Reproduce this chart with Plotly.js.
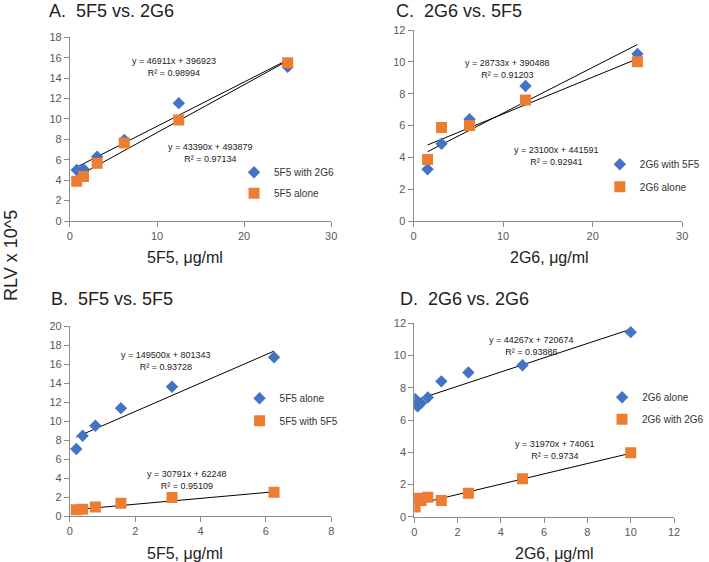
<!DOCTYPE html>
<html>
<head>
<meta charset="utf-8">
<script src="https://cdn.plot.ly/plotly-3.0.1.min.js"></script>
<style>html,body{margin:0;padding:0;background:#fff}#chart{width:709px;height:562px}</style>
</head>
<body>
<div id="chart"></div>
<script>
// ---------- DATA (RLV in units of 10^5) ----------
// Panel A: 5F5 vs. 2G6
const xA = [0.78, 1.56, 3.125, 6.25, 12.5, 25];
const yA_5F5with2G6 = [5.0, 5.1, 6.3, 7.95, 11.55, 15.1];
const yA_5F5alone = [3.9, 4.35, 5.65, 7.65, 9.9, 15.5];
// Panel C: 2G6 vs. 5F5
const xC = [1.5625, 3.125, 6.25, 12.5, 25];
const yC_2G6with5F5 = [3.25, 4.85, 6.4, 8.48, 10.5];
const yC_2G6alone = [3.87, 5.88, 6.0, 7.6, 10.0];
// Panel B: 5F5 vs. 5F5
const xB = [0.195, 0.39, 0.78, 1.5625, 3.125, 6.25];
const yB_5F5alone = [7.05, 8.45, 9.5, 11.35, 13.6, 16.7];
const yB_5F5with5F5 = [0.65, 0.7, 0.95, 1.35, 1.95, 2.5];
// Panel D: 2G6 vs. 2G6
const xD = [0.039, 0.078, 0.156, 0.3125, 0.625, 1.25, 2.5, 5, 10];
const yD_2G6alone = [7.3, 6.95, 6.85, 7.05, 7.4, 8.4, 8.95, 9.4, 11.45];
const yD_2G6with2G6 = [0.6, 1.05, 1.15, 1.0, 1.2, 1.0, 1.45, 2.35, 3.97];

// Trend line equations as printed (y = slope*x + intercept, raw RLV)
const trendSlopes     = {A1: 43390, A2: 46911, C1: 28733, C2: 23100, B1: 149500, B2: 30791, D1: 44267, D2: 31970};
const trendIntercepts = {A1: 493879, A2: 396923, C1: 390488, C2: 441591, B1: 801343, B2: 62248, D1: 720674, D2: 74061};
const trendR2         = {A1: '0.97134', A2: '0.98994', C1: '0.91203', C2: '0.92941', B1: '0.93728', B2: '0.95109', D1: '0.93886', D2: '0.9734'};

const panelTitles = {A: 'A.  5F5 vs. 2G6', B: 'B.  5F5 vs. 5F5', C: 'C.  2G6 vs. 5F5', D: 'D.  2G6 vs. 2G6'};
const xTitles = {A: '5F5, μg/ml', B: '5F5, μg/ml', C: '2G6, μg/ml', D: '2G6, μg/ml'};
const yTitle = 'RLV x 10^5';
const SCALE = 1e5;

// ---------- STYLE ----------
const W = 709, H = 562;
const BLUE = '#4472C4', ORANGE = '#ED7D31';
const px = v => v / W, py = v => 1 - v / H;
const FONT = 'Liberation Sans, Arial, sans-serif';

function fmtEq(k) {
  return 'y = ' + trendSlopes[k] + 'x + ' + trendIntercepts[k] + '<br>R² = ' + trendR2[k];
}
function trend(k, xs, xa, ya) {
  const x0 = xs[0], x1 = xs[xs.length - 1];
  const f = x => (trendSlopes[k] * x + trendIntercepts[k]) / SCALE;
  return {x: [x0, x1], y: [f(x0), f(x1)], mode: 'lines', type: 'scatter', xaxis: xa, yaxis: ya,
          line: {color: '#000', width: 1}, showlegend: false, hoverinfo: 'skip'};
}
function pts(name, xs, ys, color, symbol, size, xa, ya, lg) {
  return {x: xs, y: ys, name: name, mode: 'markers', type: 'scatter', xaxis: xa, yaxis: ya,
          marker: {color: color, symbol: symbol, size: size, line: {width: 0}}, legend: lg, showlegend: true};
}

const traces = [
  trend('A1', xA, 'x', 'y'), trend('A2', xA, 'x', 'y'),
  pts('5F5 with 2G6', xA, yA_5F5with2G6, BLUE, 'diamond', 9.5, 'x', 'y', 'legend'),
  pts('5F5 alone', xA, yA_5F5alone, ORANGE, 'square', 11, 'x', 'y', 'legend2'),

  trend('C1', xC, 'x2', 'y2'), trend('C2', xC, 'x2', 'y2'),
  pts('2G6 with 5F5', xC, yC_2G6with5F5, BLUE, 'diamond', 9.5, 'x2', 'y2', 'legend3'),
  pts('2G6 alone', xC, yC_2G6alone, ORANGE, 'square', 11, 'x2', 'y2', 'legend4'),

  trend('B1', xB, 'x3', 'y3'), trend('B2', xB, 'x3', 'y3'),
  pts('5F5 alone', xB, yB_5F5alone, BLUE, 'diamond', 9.5, 'x3', 'y3', 'legend5'),
  pts('5F5 with 5F5', xB, yB_5F5with5F5, ORANGE, 'square', 11, 'x3', 'y3', 'legend6'),

  trend('D1', xD, 'x4', 'y4'), trend('D2', xD, 'x4', 'y4'),
  pts('2G6 alone', xD, yD_2G6alone, BLUE, 'diamond', 9.5, 'x4', 'y4', 'legend7'),
  pts('2G6 with 2G6', xD, yD_2G6with2G6, ORANGE, 'square', 11, 'x4', 'y4', 'legend8')
];

const axCommon = {showgrid: false, zeroline: false, showline: true, linecolor: '#8c8c8c', linewidth: 1,
  ticks: 'outside', ticklen: 5, tickcolor: '#8c8c8c', tickfont: {family: FONT, size: 11, color: '#595959'},
  fixedrange: true};
function xax(dom, range, dtick, anchor) {
  return Object.assign({}, axCommon, {domain: dom, range: range, dtick: dtick, tick0: 0, anchor: anchor});
}
function yax(dom, range, dtick, anchor) {
  return Object.assign({}, axCommon, {domain: dom, range: range, dtick: dtick, tick0: 0, anchor: anchor});
}
function legendAt(xc, yc) {
  return {x: px(xc - 20), y: py(yc), xanchor: 'left', yanchor: 'middle', bgcolor: 'rgba(0,0,0,0)',
          font: {family: FONT, size: 10, color: '#333'}, borderwidth: 0};
}
function eqAnn(k, xc, yc) {
  return {text: fmtEq(k), xref: 'paper', yref: 'paper', x: px(xc), y: py(yc), xanchor: 'center', yanchor: 'middle',
          showarrow: false, align: 'center', font: {family: FONT, size: 9, color: '#222'}};
}
function titleAnn(t, x, yc) {
  return {text: t, xref: 'paper', yref: 'paper', x: px(x), y: py(yc), xanchor: 'left', yanchor: 'middle',
          showarrow: false, font: {family: FONT, size: 18, color: '#222'}};
}
function xTitleAnn(t, xc, yc) {
  return {text: t, xref: 'paper', yref: 'paper', x: px(xc), y: py(yc), xanchor: 'center', yanchor: 'middle',
          showarrow: false, font: {family: FONT, size: 16, color: '#222'}};
}

const layout = {
  width: W, height: H, margin: {l: 0, r: 0, t: 0, b: 0}, paper_bgcolor: '#fff', plot_bgcolor: '#fff',
  font: {family: FONT},
  xaxis:  xax([px(70.7), px(335)], [0, 30], 10, 'y'),
  yaxis:  yax([py(221), py(37.3)], [0, 18], 2, 'x'),
  xaxis2: xax([px(418.3), px(690)], [0, 30], 10, 'y2'),
  yaxis2: yax([py(221), py(30)], [0, 12], 2, 'x2'),
  xaxis3: xax([px(70.7), px(335)], [0, 8], 2, 'y3'),
  yaxis3: yax([py(516), py(326)], [0, 20], 2, 'x3'),
  xaxis4: xax([px(419), px(681.7)], [0, 12], 2, 'y4'),
  yaxis4: yax([py(516.7), py(323.3)], [0, 12], 2, 'x4'),
  legend:  legendAt(256.7, 172.3),
  legend2: legendAt(256.7, 193.3),
  legend3: legendAt(626.7, 164.3),
  legend4: legendAt(626.7, 186.7),
  legend5: legendAt(262.3, 398.3),
  legend6: legendAt(262.3, 420.7),
  legend7: legendAt(629, 397.3),
  legend8: legendAt(629, 419.3),
  annotations: [
    titleAnn(panelTitles.A, 48, 11),
    titleAnn(panelTitles.C, 398, 11),
    titleAnn(panelTitles.B, 50, 299),
    titleAnn(panelTitles.D, 403, 299),
    xTitleAnn(xTitles.A, 187, 257),
    xTitleAnn(xTitles.C, 556, 257),
    xTitleAnn(xTitles.B, 187, 553),
    xTitleAnn(xTitles.D, 561, 553),
    eqAnn('A2', 176, 67), eqAnn('A1', 213.3, 153),
    eqAnn('C1', 513.3, 69), eqAnn('C2', 563.2, 156),
    eqAnn('B1', 167.8, 361), eqAnn('B2', 189.2, 480),
    eqAnn('D1', 538, 346), eqAnn('D2', 561.3, 450),
    {text: yTitle, xref: 'paper', yref: 'paper', x: px(11), y: py(255), xanchor: 'center', yanchor: 'middle',
     textangle: -90, showarrow: false, font: {family: FONT, size: 18, color: '#222'}}
  ]
};

Plotly.newPlot('chart', traces, layout, {displayModeBar: false, staticPlot: true});
</script>
</body>
</html>
